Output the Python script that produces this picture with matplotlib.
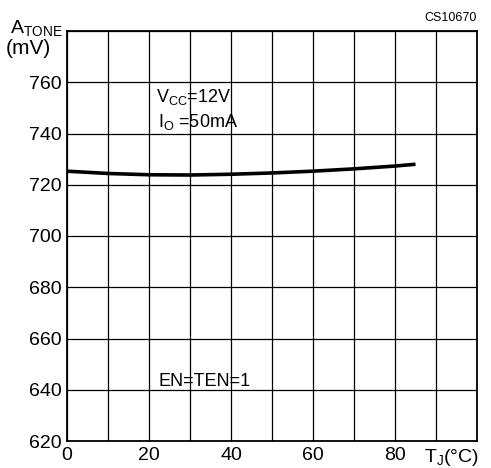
import matplotlib
matplotlib.use("Agg")
import matplotlib.pyplot as plt

# junction temperature (degC) and tone amplitude (mV)
tj = [0, 10, 20, 30, 40, 50, 60, 70, 80, 85]
atone = [725.3, 724.4, 723.9, 723.8, 724.1, 724.6, 725.3, 726.2, 727.3, 728.0]

xticks = [0, 20, 40, 60, 80]
yticks = [620, 640, 660, 680, 700, 720, 740, 760]

plt.rcParams['font.family'] = ['Liberation Sans', 'DejaVu Sans']

fig = plt.figure(figsize=(4.91, 4.68), dpi=100)
ax = fig.add_axes([67/491, 1 - 441/468, 410/491, 410/468])

ax.plot(tj, atone, color='black', linewidth=2.6, solid_capstyle='butt')

ax.set_xlim(0, 100)
ax.set_ylim(620, 780)
ax.set_xticks(range(0, 101, 10))
ax.set_xticklabels([str(v) if v in xticks else '' for v in range(0, 101, 10)])
ax.set_yticks(range(620, 781, 20))
ax.set_yticklabels([str(v) if v in yticks else '' for v in range(620, 781, 20)])
ax.grid(True, color='black', linewidth=0.9)
ax.tick_params(length=0, labelsize=14, pad=4)
for s in ax.spines.values():
    s.set_linewidth(1.3)

fig.text(10/491, 1 - 29/468, r'A$_{\mathregular{TONE}}$', fontsize=14, ha='left', va='center')
fig.text(6/491, 1 - 49/468, '(mV)', fontsize=15, ha='left', va='center')
fig.text(452/491, 1 - 457/468, r'T$_{\mathregular{J}}$(°C)', fontsize=14, ha='center', va='center')
fig.text(477/491, 1 - 18/468, 'CS10670', fontsize=9, ha='right', va='center')

fig.text(156/491, 1 - 97/468, r'V$_{\mathregular{CC}}$=12V', fontsize=13, ha='left', va='center')
fig.text(158/491, 1 - 122/468, r'I$_{\mathregular{O}}$ =50mA', fontsize=13, ha='left', va='center')
fig.text(158/491, 1 - 381/468, 'EN=TEN=1', fontsize=13, ha='left', va='center')

fig.savefig('out.png', dpi=100)
